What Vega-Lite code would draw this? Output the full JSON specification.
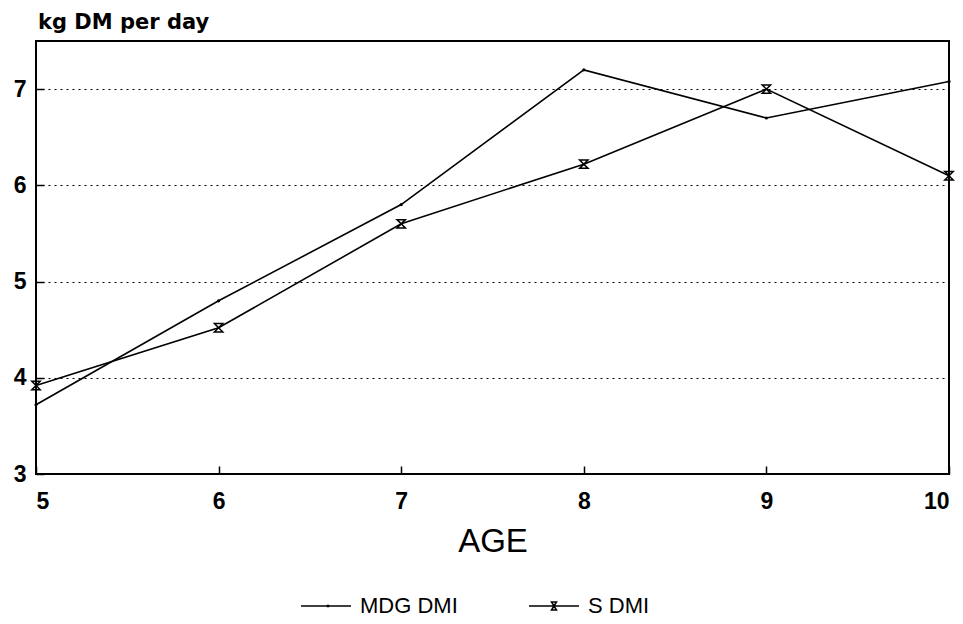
{
  "$schema": "https://vega.github.io/schema/vega-lite/v6.json",
  "width": 913,
  "height": 433,
  "autosize": {"type": "none"},
  "padding": {"left": 36, "top": 41, "right": 14, "bottom": 150},
  "background": "white",
  "config": {
    "view": {"stroke": "black", "strokeWidth": 2},
    "font": "Liberation Sans"
  },
  "title": {
    "text": "kg DM per day",
    "anchor": "start",
    "frame": "group",
    "fontSize": 21,
    "fontWeight": "bold",
    "font": "DejaVu Sans",
    "offset": 8,
    "dx": 2
  },
  "data": {
    "values": [
      {"age": 5, "series": "MDG DMI", "value": 3.72},
      {"age": 6, "series": "MDG DMI", "value": 4.8},
      {"age": 7, "series": "MDG DMI", "value": 5.8},
      {"age": 8, "series": "MDG DMI", "value": 7.2},
      {"age": 9, "series": "MDG DMI", "value": 6.7},
      {"age": 10, "series": "MDG DMI", "value": 7.08},
      {"age": 5, "series": "S DMI", "value": 3.92},
      {"age": 6, "series": "S DMI", "value": 4.52},
      {"age": 7, "series": "S DMI", "value": 5.6},
      {"age": 8, "series": "S DMI", "value": 6.22},
      {"age": 9, "series": "S DMI", "value": 7.0},
      {"age": 10, "series": "S DMI", "value": 6.1}
    ]
  },
  "encoding": {
    "x": {
      "field": "age",
      "type": "quantitative",
      "scale": {"domain": [5, 10], "nice": false, "zero": false},
      "axis": {
        "values": [5, 6, 7, 8, 9, 10],
        "title": "AGE",
        "titleFontSize": 33,
        "titleFontWeight": "normal",
        "titlePadding": 12,
        "titleColor": "black",
        "labelFontSize": 23,
        "labelFontWeight": "bold",
        "labelColor": "black",
        "labelPadding": 24,
        "tickSize": -8,
        "tickColor": "black",
        "tickWidth": 1.5,
        "domain": false,
        "grid": false
      }
    },
    "y": {
      "field": "value",
      "type": "quantitative",
      "scale": {"domain": [3, 7.5], "nice": false, "zero": false},
      "axis": {
        "values": [3, 4, 5, 6, 7],
        "title": null,
        "labelFontSize": 23,
        "labelFontWeight": "bold",
        "labelColor": "black",
        "labelPadding": 18,
        "tickSize": -8,
        "tickColor": "black",
        "tickWidth": 1.5,
        "domain": false,
        "grid": true,
        "gridColor": "black",
        "gridDash": [2, 4],
        "gridWidth": 1.2
      }
    }
  },
  "layer": [
    {
      "mark": {"type": "line", "color": "black", "strokeWidth": 1.6},
      "encoding": {
        "detail": {"field": "series", "type": "nominal"}
      }
    },
    {
      "transform": [{"filter": "datum.series === 'MDG DMI'"}],
      "mark": {"type": "point", "color": "black", "filled": true, "size": 10, "shape": "circle", "opacity": 1}
    },
    {
      "transform": [{"filter": "datum.series === 'S DMI'"}],
      "mark": {"type": "point", "color": "black", "filled": false, "strokeWidth": 1.5, "size": 70, "shape": "M-1,-1L1,-1L-1,1L1,1Z", "opacity": 1}
    },
    {
      "mark": {"type": "point", "color": "black", "filled": false, "strokeWidth": 1.5, "opacity": 0, "size": 2500},
      "encoding": {
        "shape": {
          "field": "series",
          "type": "nominal",
          "scale": {
            "domain": ["MDG DMI", "S DMI"],
            "range": [
              "M-1,0L1,0M0.06,-0.02L0.1,-0.02L0.1,0.02L0.06,0.02Z",
              "M-1,0L1,0M-0.1,-0.16L0.1,-0.16L-0.1,0.16L0.1,0.16Z"
            ]
          },
          "legend": {
            "title": null,
            "orient": "none",
            "direction": "horizontal",
            "legendX": 264,
            "legendY": 539,
            "labelFontSize": 22,
            "labelFont": "Liberation Sans",
            "labelColor": "black",
            "symbolSize": 2500,
            "symbolOpacity": 1,
            "symbolStrokeColor": "black",
            "symbolFillColor": "transparent",
            "symbolStrokeWidth": 1.5,
            "columnPadding": 68,
            "labelOffset": 8
          }
        }
      }
    }
  ]
}
